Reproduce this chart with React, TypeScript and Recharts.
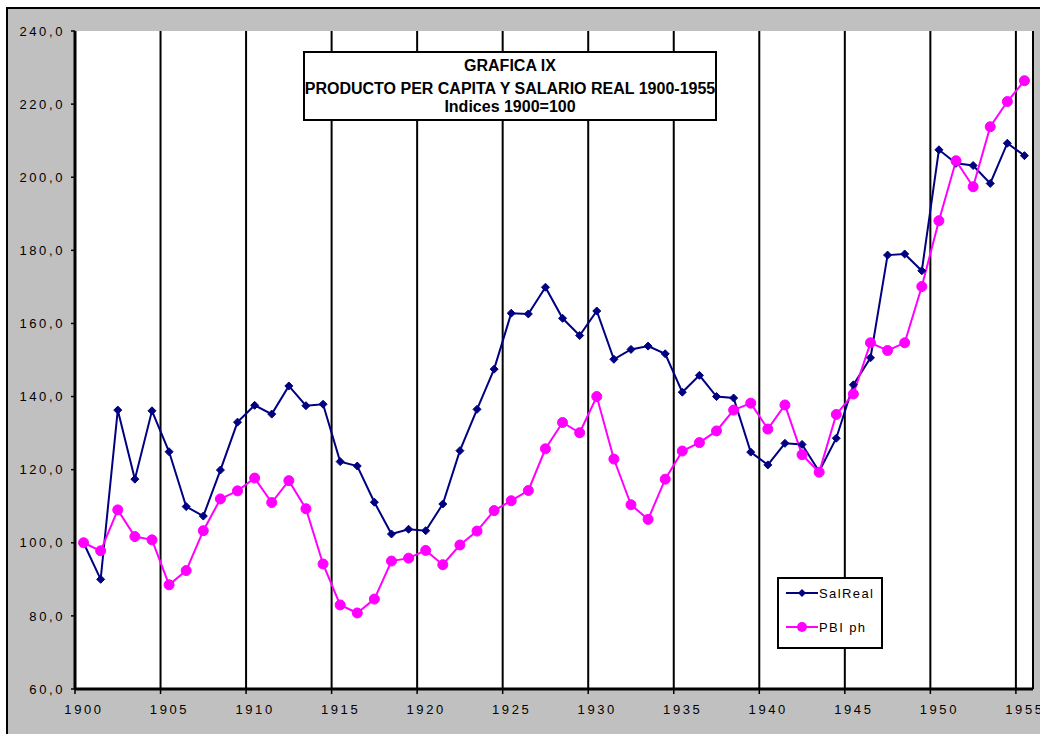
import React from "react";
import { CartesianGrid, Legend, Line, LineChart, XAxis, YAxis } from "recharts";

const years = [
  1900, 1901, 1902, 1903, 1904, 1905, 1906, 1907, 1908, 1909,
  1910, 1911, 1912, 1913, 1914, 1915, 1916, 1917, 1918, 1919,
  1920, 1921, 1922, 1923, 1924, 1925, 1926, 1927, 1928, 1929,
  1930, 1931, 1932, 1933, 1934, 1935, 1936, 1937, 1938, 1939,
  1940, 1941, 1942, 1943, 1944, 1945, 1946, 1947, 1948, 1949,
  1950, 1951, 1952, 1953, 1954, 1955
];

const salReal = [
  100.0, 90.0, 136.3, 117.4, 136.1, 124.9, 109.9, 107.3, 119.9, 133.0,
  137.6, 135.2, 142.9, 137.5, 137.9, 122.2, 121.0, 111.1, 102.4, 103.7,
  103.3, 110.6, 125.2, 136.5, 147.5, 162.8, 162.6, 169.9, 161.4, 156.7,
  163.4, 150.2, 152.9, 153.8, 151.7, 141.2, 145.8, 140.0, 139.6, 124.8,
  121.3, 127.2, 126.9, 119.5, 128.6, 143.2, 150.6, 178.7, 179.0, 174.4,
  207.5, 203.8, 203.2, 198.3, 209.3, 205.9
];

const pbiPh = [
  100.0, 97.8, 109.0, 101.7, 100.8, 88.5, 92.4, 103.3, 112.0, 114.2,
  117.7, 111.0, 117.0, 109.3, 94.2, 83.0, 80.8, 84.6, 95.0, 95.8,
  97.9, 94.0, 99.4, 103.2, 108.8, 111.5, 114.3, 125.7, 132.9, 130.1,
  140.0, 122.9, 110.4, 106.4, 117.4, 125.1, 127.4, 130.6, 136.3, 138.2,
  131.1, 137.7, 124.1, 119.3, 135.1, 140.7, 154.7, 152.6, 154.7, 170.1,
  188.1, 204.5, 197.4, 213.8, 220.7, 226.4
];

const xTickLabels = [1900, 1905, 1910, 1915, 1920, 1925, 1930, 1935, 1940, 1945, 1950, 1955];
const yTicks = [60, 80, 100, 120, 140, 160, 180, 200, 220, 240];

const titleLines = ["GRAFICA IX", "PRODUCTO PER CAPITA Y SALARIO REAL 1900-1955", "Indices 1900=100"];
const legendOrder = ["salReal", "pbi"];

const data = years.map((year, i) => ({ year, salReal: salReal[i], pbi: pbiPh[i] }));

// excel-style category axis: tick marks sit between years, labels sit on the year
const xTicks = xTickLabels.map((y) => y - 0.5);

const FONT = "Arial, 'Liberation Sans', sans-serif";
const NAVY = "#000080";
const MAGENTA = "#ff00ff";

function Diamond(props: any) {
  const { cx, cy, index } = props;
  if (cx == null || cy == null) return <g key={index} />;
  const s = 4;
  return (
    <path
      key={index}
      d={`M${cx},${cy - s}L${cx + s},${cy}L${cx},${cy + s}L${cx - s},${cy}Z`}
      fill={NAVY}
      stroke={NAVY}
      strokeWidth={1}
    />
  );
}

function XTick(props: any) {
  const { x, y, payload } = props;
  return (
    <text
      x={x + 9}
      y={y}
      dy="0.71em"
      textAnchor="middle"
      fill="#000"
      fontSize={13}
      fontFamily={FONT}
      letterSpacing={2.6}
    >
      {String(payload.value + 0.5)}
    </text>
  );
}

function LegendBox(props: any) {
  const items = [...(props.payload || [])].sort(
    (a: any, b: any) => legendOrder.indexOf(a.dataKey) - legendOrder.indexOf(b.dataKey)
  );
  return (
    <div
      style={{
        width: 106,
        height: 72,
        boxSizing: "border-box",
        border: "2px solid #000",
        background: "#fff",
        position: "relative",
        fontFamily: FONT,
        fontSize: 13
      }}
    >
      {items.map((item: any, i: number) => (
        <div key={item.value} style={{ position: "absolute", left: 7, top: (i === 0 ? 14 : 48) - 9, height: 18, display: "flex", alignItems: "center" }}>
          <svg width={32} height={18}>
            <line x1={0} y1={9} x2={32} y2={9} stroke={item.color} strokeWidth={2} />
            {item.dataKey === "salReal" ? (
              <path d="M16,5L20,9L16,13L12,9Z" fill={item.color} />
            ) : (
              <circle cx={16} cy={9} r={5} fill={item.color} />
            )}
          </svg>
          <span style={{ letterSpacing: 1.4, marginLeft: 1, color: "#000" }}>{item.value}</span>
        </div>
      ))}
    </div>
  );
}

export default function App() {
  return (
    <div style={{ position: "absolute", left: 0, top: 0, width: 1040, height: 734, overflow: "hidden", background: "#fff" }}>
      <div
        style={{
          position: "absolute",
          left: 6,
          top: 7,
          width: 1100,
          height: 800,
          border: "2px solid #000",
          background: "#c0c0c0"
        }}
      />
      <div style={{ position: "absolute", left: 0, top: 0 }}>
        <LineChart width={1040} height={734} data={data} margin={{ top: 31, right: 7, bottom: 0, left: 0 }}>
          <CartesianGrid horizontal={false} stroke="#000" strokeWidth={2} fill="#fff" fillOpacity={1} />
          <XAxis
            dataKey="year"
            type="number"
            domain={[1899.5, 1955.5]}
            ticks={xTicks}
            interval={0}
            axisLine={{ stroke: "#000", strokeWidth: 3 }}
            tickLine={{ stroke: "#000", strokeWidth: 1.5 }}
            tickSize={5}
            tickMargin={11}
            height={45}
            tick={<XTick />}
          />
          <XAxis
            xAxisId="top"
            orientation="top"
            dataKey="year"
            type="number"
            domain={[1899.5, 1955.5]}
            height={0}
            tick={false}
            tickLine={false}
            axisLine={{ stroke: "#000", strokeWidth: 2 }}
          />
          <YAxis
            type="number"
            domain={[60, 240]}
            ticks={yTicks}
            interval={0}
            width={75}
            axisLine={{ stroke: "#000", strokeWidth: 3 }}
            tickLine={{ stroke: "#000", strokeWidth: 1.5 }}
            tickSize={4}
            tickMargin={6}
            tickFormatter={(v: number) => v.toFixed(1).replace(".", ",")}
            tick={{ fill: "#000", fontSize: 13, fontFamily: FONT, letterSpacing: 2.6 }}
          />
          <YAxis
            yAxisId="right"
            orientation="right"
            type="number"
            domain={[60, 240]}
            width={0}
            tick={false}
            tickLine={false}
            axisLine={{ stroke: "#000", strokeWidth: 2 }}
          />
          <Legend
            layout="horizontal"
            verticalAlign="middle"
            align="center"
            content={<LegendBox />}
            wrapperStyle={{ left: 777, top: 577, width: 106, height: 72 }}
          />
          <Line
            type="linear"
            dataKey="salReal"
            name="SalReal"
            stroke={NAVY}
            strokeWidth={2}
            dot={(p: any) => <Diamond {...p} />}
            activeDot={false}
            isAnimationActive={false}
          />
          <Line
            type="linear"
            dataKey="pbi"
            name="PBI ph"
            stroke={MAGENTA}
            strokeWidth={2}
            dot={{ r: 5, fill: MAGENTA, stroke: MAGENTA, strokeWidth: 1 }}
            activeDot={false}
            isAnimationActive={false}
          />
        </LineChart>
      </div>
      <div
        style={{
          position: "absolute",
          left: 303,
          top: 51,
          width: 414,
          height: 70,
          boxSizing: "border-box",
          border: "2px solid #000",
          background: "#fff",
          fontFamily: FONT,
          fontWeight: "bold",
          fontSize: 16,
          color: "#000"
        }}
      >
        {titleLines.map((line, i) => (
          <div
            key={line}
            style={{
              position: "absolute",
              left: -10,
              right: -10,
              top: [5, 28, 46][i] - 1,
              lineHeight: "18px",
              textAlign: "center",
              whiteSpace: "nowrap"
            }}
          >
            {line}
          </div>
        ))}
      </div>
    </div>
  );
}
